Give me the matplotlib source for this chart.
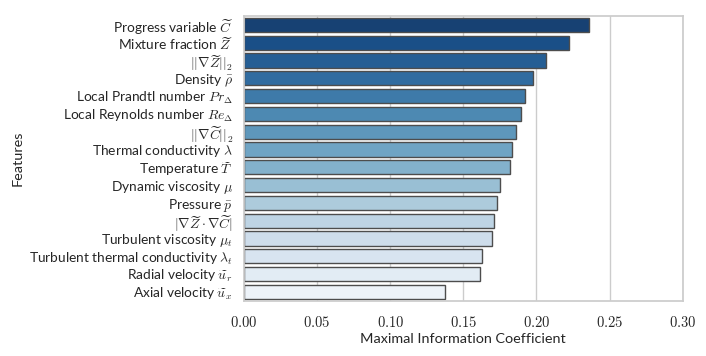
import matplotlib
matplotlib.use("Agg")
import matplotlib.pyplot as plt
import seaborn as sns
import pandas as pd
from matplotlib.ticker import FuncFormatter

features = [
    r'Progress variable $\widetilde{C}$',
    r'Mixture fraction $\widetilde{Z}$',
    r'$||\nabla \widetilde{Z}||_2$',
    r'Density $\bar{\rho}$',
    r'Local Prandtl number $Pr_\Delta$',
    r'Local Reynolds number $Re_\Delta$',
    r'$||\nabla \widetilde{C}||_2$',
    r'Thermal conductivity $\lambda$',
    r'Temperature $\widetilde{T}$',
    r'Dynamic viscosity $\mu$',
    r'Pressure $\bar{p}$',
    r'$|\nabla \widetilde{Z} \cdot \nabla \widetilde{C}|$',
    r'Turbulent viscosity $\mu_t$',
    r'Turbulent thermal conductivity $\lambda_t$',
    r'Radial velocity $\widetilde{u}_r$',
    r'Axial velocity $\widetilde{u}_x$',
]
mic = [0.2358, 0.2221, 0.2062, 0.1973, 0.1925, 0.1895, 0.1858, 0.1833,
       0.1817, 0.1749, 0.1728, 0.1710, 0.1699, 0.1628, 0.1616, 0.1377]
xticks = [0.00, 0.05, 0.10, 0.15, 0.20, 0.25, 0.30]

sns.set_theme(style="whitegrid")
plt.rcParams['font.family'] = ['Lato', 'DejaVu Sans']
plt.rcParams['mathtext.fontset'] = 'cm'

df = pd.DataFrame({"Features": features, "MIC": mic})

fig = plt.figure(figsize=(7.06, 3.56), dpi=100)
ax = fig.add_axes([0.3456, 0.1553, 0.967 - 0.3456, 0.955 - 0.1553])
sns.barplot(data=df, x="MIC", y="Features", hue="Features", palette="Blues_r",
            legend=False, edgecolor="0.3", linewidth=1.0, ax=ax)
ax.set_xlim(0, 0.30)
ax.set_xticks(xticks)
ax.xaxis.set_major_formatter(FuncFormatter(lambda v, p: r'$%.2f$' % v))
ax.set_xlabel("Maximal Information Coefficient", fontsize=10.4, labelpad=2)
ax.set_ylabel("Features", fontsize=10.4)
ax.tick_params(axis='y', labelsize=9.9, pad=2)
ax.tick_params(axis='x', labelsize=10.5, pad=4.5)
ax.grid(axis='y', visible=False)
fig.savefig("out.png", dpi=100)
